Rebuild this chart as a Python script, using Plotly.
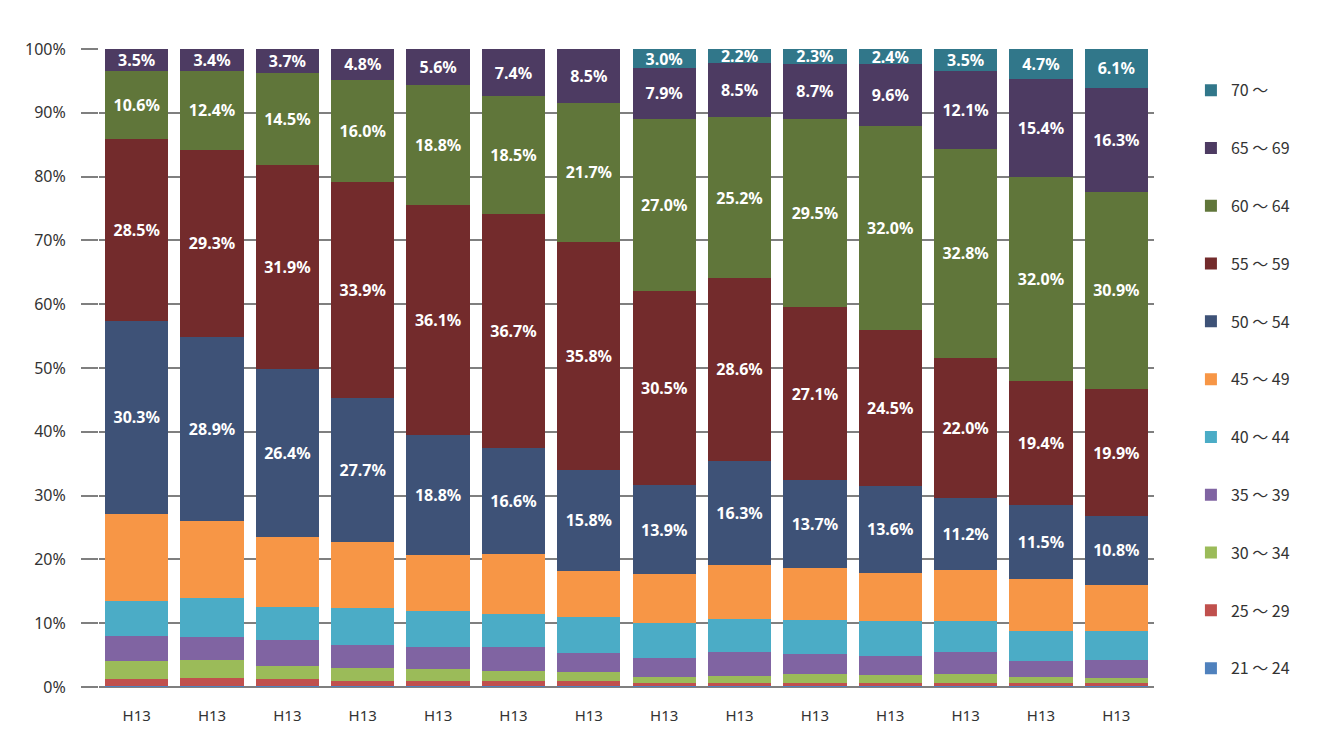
import plotly.graph_objects as go

categories = ["H13", "H13", "H13", "H13", "H13", "H13", "H13",
              "H13", "H13", "H13", "H13", "H13", "H13", "H13"]

age_groups = ["21 ～ 24", "25 ～ 29", "30 ～ 34", "35 ～ 39", "40 ～ 44", "45 ～ 49",
              "50 ～ 54", "55 ～ 59", "60 ～ 64", "65 ～ 69", "70 ～"]

v21_24 = [0.1, 0.1, 0.1, 0.1, 0.1, 0.1, 0.1, 0.1, 0.1, 0.1, 0.1, 0.1, 0.1, 0.1]
v25_29 = [1.1, 1.3, 1.1, 0.8, 0.8, 0.8, 0.8, 0.6, 0.5, 0.6, 0.6, 0.6, 0.6, 0.6]
v30_34 = [2.9, 2.8, 2.1, 2.1, 1.9, 1.6, 1.4, 0.9, 1.1, 1.3, 1.2, 1.3, 0.9, 0.7]
v35_39 = [3.9, 3.6, 4.0, 3.6, 3.4, 3.8, 3.0, 3.0, 3.8, 3.1, 3.0, 3.5, 2.5, 2.9]
v40_44 = [5.5, 6.1, 5.2, 5.8, 5.7, 5.2, 5.6, 5.5, 5.1, 5.4, 5.4, 4.8, 4.7, 4.5]
v45_49 = [13.6, 12.1, 11.0, 10.3, 8.8, 9.3, 7.3, 7.6, 8.6, 8.2, 7.6, 8.1, 8.2, 7.2]
v50_54 = [30.3, 28.9, 26.4, 22.6, 18.8, 16.6, 15.8, 13.9, 16.3, 13.7, 13.6, 11.2, 11.5, 10.8]
v55_59 = [28.5, 29.3, 31.9, 33.9, 36.1, 36.7, 35.8, 30.5, 28.6, 27.1, 24.5, 22.0, 19.4, 19.9]
v60_64 = [10.6, 12.4, 14.5, 16.0, 18.8, 18.5, 21.7, 27.0, 25.2, 29.5, 32.0, 32.8, 32.0, 30.9]
v65_69 = [3.5, 3.4, 3.7, 4.8, 5.6, 7.4, 8.5, 7.9, 8.5, 8.7, 9.6, 12.1, 15.4, 16.3]
v70 = [0.0, 0.0, 0.0, 0.0, 0.0, 0.0, 0.0, 3.0, 2.2, 2.3, 2.4, 3.5, 4.7, 6.1]

# printed labels of the 50～54 segments (as shown on the chart)
lab50_54 = [30.3, 28.9, 26.4, 27.7, 18.8, 16.6, 15.8, 13.9, 16.3, 13.7, 13.6, 11.2, 11.5, 10.8]

series = [v21_24, v25_29, v30_34, v35_39, v40_44, v45_49,
          v50_54, v55_59, v60_64, v65_69, v70]
labels = [None, None, None, None, None, None,
          lab50_54, v55_59, v60_64, v65_69, v70]
colors = ["#4F81BD", "#C0504D", "#9BBB59", "#8064A2", "#4BACC6", "#F79646",
          "#3E5277", "#732B2C", "#60763A", "#4D3B62", "#31778A"]

x = list(range(len(categories)))
font_fam = "Noto Sans CJK JP, Noto Sans, sans-serif"

fig = go.Figure()
n = len(age_groups)
for i, (name, vals, lab, col) in enumerate(zip(age_groups, series, labels, colors)):
    if lab is not None:
        text = [f"{t:.1f}%" if v > 0 else "" for t, v in zip(lab, vals)]
    else:
        text = None
    fig.add_trace(go.Bar(
        x=x, y=vals, name=name, marker=dict(color=col, line=dict(width=0)),
        text=text, textposition="inside" if text else "none",
        insidetextanchor="middle",
        textfont=dict(color="white", size=16, family="Noto Sans, sans-serif", weight="bold"),
        legendgroup=f"g{i}", legendrank=100 + (n - i), hoverinfo="name+y",
    ))

fig.update_layout(
    barmode="stack",
    bargap=0.16,
    width=1325, height=746,
    margin=dict(l=91, r=179, t=41, b=67),
    paper_bgcolor="white", plot_bgcolor="white",
    font=dict(family=font_fam, color="#333333", size=15),
    uniformtext=dict(minsize=16, mode="show"),
    legend=dict(
        x=1.035, y=0.962, xanchor="left", yanchor="top",
        traceorder="grouped", tracegroupgap=34,
        font=dict(size=16, color="#333333", family=font_fam),
        itemwidth=30,
    ),
    xaxis=dict(
        tickmode="array", tickvals=x, ticktext=categories,
        range=[-0.5, len(categories) - 0.5],
        showgrid=False, zeroline=False, showline=False,
        ticks="", tickfont=dict(size=15, color="#333333", family="Noto Sans, sans-serif"),
        ticklabelstandoff=18,
    ),
    yaxis=dict(
        range=[0, 100], tickmode="array",
        tickvals=[0, 10, 20, 30, 40, 50, 60, 70, 80, 90, 100],
        ticktext=["0%", "10%", "20%", "30%", "40%", "50%", "60%", "70%", "80%", "90%", "100%"],
        showgrid=True, gridcolor="#7F7F7F", gridwidth=2,
        zeroline=True, zerolinecolor="#7F7F7F", zerolinewidth=2,
        ticks="outside", ticklen=17, tickwidth=2, tickcolor="#7F7F7F",
        tickfont=dict(size=16, color="#333333", family="Noto Sans, sans-serif"),
        ticklabelstandoff=12,
        showline=False,
    ),
)

fig.write_html("out.html")
